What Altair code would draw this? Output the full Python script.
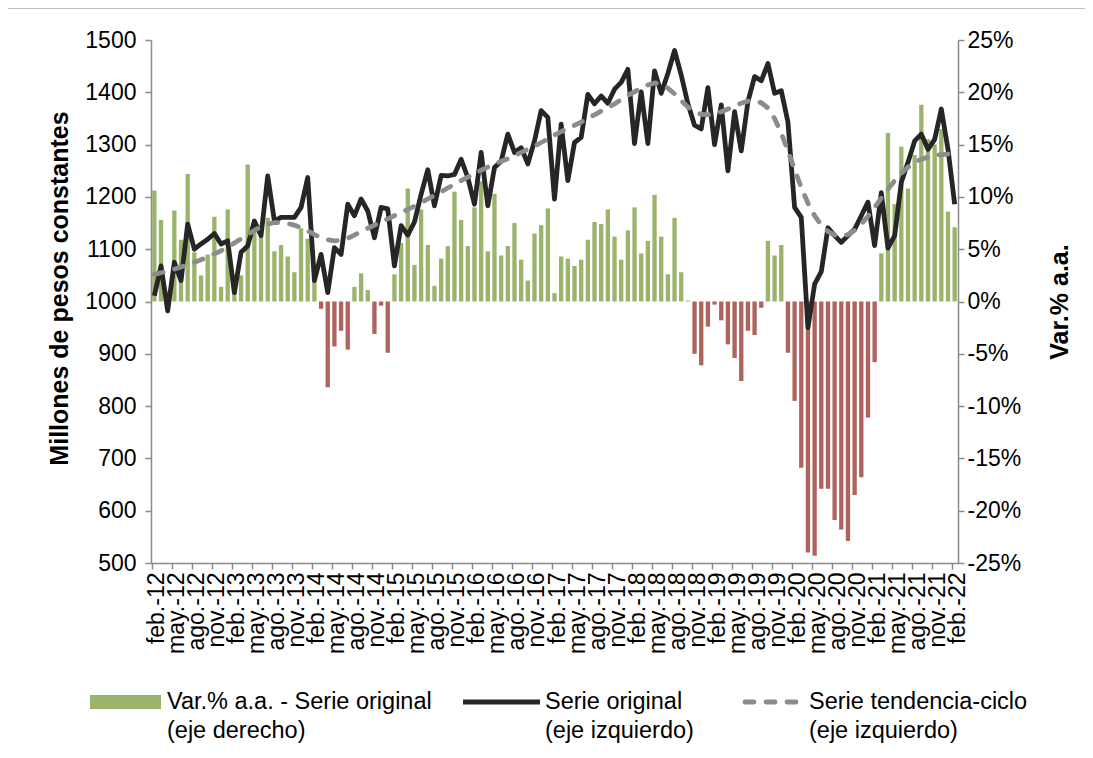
import altair as alt
import pandas as pd

# ---------------- data ----------------
meses = ["ene.", "feb.", "mar.", "abr.", "may.", "jun.", "jul.", "ago.", "sep.", "oct.", "nov.", "dic."]
periodo = []
_m, _y = 1, 12
for _k in range(121):
    periodo.append(f"{meses[_m]}-{_y}")
    _m += 1
    if _m == 12:
        _m, _y = 0, _y + 1
etiquetas = periodo[::3]

serie_original = [
    1011, 1068, 982, 1075, 1040, 1148, 1100, 1110, 1119, 1130,
    1110, 1116, 1017, 1094, 1106, 1154, 1126, 1240, 1154, 1161,
    1161, 1161, 1180, 1237, 1040, 1090, 1017, 1103, 1090, 1186,
    1164, 1196, 1173, 1122, 1180, 1177, 1068, 1145, 1127, 1152,
    1205, 1252, 1183, 1241, 1240, 1243, 1272, 1237, 1186, 1285,
    1183, 1256, 1268, 1320, 1285, 1294, 1263, 1307, 1365, 1352,
    1196, 1339, 1231, 1304, 1314, 1396, 1378, 1393, 1379, 1406,
    1419, 1444, 1302, 1401, 1302, 1441, 1398, 1436, 1480, 1433,
    1378, 1337, 1330, 1409, 1300, 1376, 1250, 1363, 1288, 1382,
    1430, 1422, 1455, 1398, 1403, 1343, 1180, 1161, 950, 1033,
    1057, 1141, 1126, 1113, 1126, 1138, 1164, 1190, 1107, 1208,
    1102, 1126, 1228, 1266, 1307, 1320, 1291, 1310, 1368, 1291, 1186,
]

serie_tendencia = [
    1052, 1055, 1058, 1062, 1066, 1070, 1075, 1080, 1085, 1091,
    1097, 1104, 1112, 1120, 1128, 1136, 1143, 1148, 1151, 1151,
    1149, 1146, 1141, 1135, 1128, 1122, 1118, 1116, 1117, 1121,
    1127, 1134, 1140, 1146, 1152, 1158, 1164, 1170, 1176, 1182,
    1189, 1196, 1203, 1210, 1217, 1224, 1231, 1238, 1244, 1251,
    1257, 1263, 1268, 1273, 1279, 1285, 1291, 1297, 1304, 1311,
    1318, 1325, 1331, 1337, 1343, 1350, 1357, 1364, 1371, 1378,
    1386, 1394, 1401, 1408, 1414, 1418, 1416, 1408, 1397, 1384,
    1372, 1363, 1358, 1357, 1359, 1363, 1368, 1374, 1379, 1383,
    1384, 1380, 1370, 1350, 1322, 1288, 1252, 1218, 1188, 1164,
    1146, 1134, 1127, 1125, 1128, 1136, 1148, 1163, 1180, 1198,
    1215, 1231, 1245, 1257, 1266, 1272, 1276, 1279, 1281, 1282, 1282,
]

variacion = [
    10.6, 7.8, 1.0, 8.7, 5.9, 12.2, 4.7, 2.5, 4.5, 8.1,
    1.4, 8.8, 1.5, 2.5, 13.1, 7.2, 6.2, 8.0, 4.8, 5.4,
    4.3, 2.8, 7.0, 6.0, 2.0, -0.7, -8.2, -4.3, -2.8, -4.6,
    1.4, 2.7, 1.1, -3.1, -0.4, -4.9, 2.6, 5.6, 10.8, 3.5,
    8.8, 5.4, 1.5, 4.1, 5.3, 10.5, 7.8, 5.3, 9.0, 11.5,
    4.8, 10.3, 4.4, 5.3, 7.5, 4.0, 2.0, 6.5, 7.3, 8.9,
    0.8, 4.3, 4.1, 3.4, 4.0, 5.9, 7.6, 7.4, 8.8, 6.2,
    4.0, 6.8, 9.0, 4.6, 5.8, 10.2, 6.2, 2.6, 8.0, 2.8,
    0.1, -5.0, -6.1, -2.4, -0.3, -1.8, -4.1, -5.4, -7.6, -2.8,
    -3.2, -0.6, 5.8, 4.4, 5.4, -4.9, -9.5, -15.9, -24.0, -24.3,
    -17.9, -17.9, -20.9, -21.8, -22.9, -18.5, -16.8, -11.1, -5.8, 4.6,
    16.1, 9.3, 14.8, 10.8, 14.0, 18.8, 15.5, 15.0, 16.5, 8.6, 7.1,
]

ticks_izq = list(range(500, 1501, 100))
ticks_der = list(range(-25, 26, 5))

leyenda_l1 = ["Var.% a.a. - Serie original", "Serie original", "Serie tendencia-ciclo"]
leyenda_l2 = ["(eje derecho)", "(eje izquierdo)", "(eje izquierdo)"]

df = pd.DataFrame({
    "periodo": periodo,
    "orig": serie_original,
    "tend": serie_tendencia,
    "variacion": variacion,
})

# ---------------- styles ----------------
VERDE = "#9BB46B"
ROJO = "#B0635E"
NEGRO = "#262626"
GRIS = "#8C8C8C"
EJE = "#8A8A8A"
FONT = "Liberation Sans"
FS = 23
FS_T = 25
FS_L = 23.5
DASH = [9, 12]

W, H = 807, 523

x_enc = alt.X(
    "periodo:N",
    sort=periodo,
    scale=alt.Scale(paddingInner=0.35, paddingOuter=0.175),
    axis=alt.Axis(
        values=etiquetas, labelAngle=270, bandPosition=0, labelOffset=3,
        title=None, tickSize=6, labelPadding=3, labelOverlap=False,
    ),
)

base = alt.Chart(df)

barras = base.mark_bar().encode(
    x=x_enc,
    y=alt.Y(
        "variacion:Q",
        scale=alt.Scale(domain=[-25, 25], nice=False, zero=True),
        axis=alt.Axis(
            orient="right", values=ticks_der, labelExpr="datum.value + '%'",
            title="Var.% a.a.", titleAngle=270, titlePadding=52,
            titleFontWeight="bold", tickSize=6, labelPadding=3,
        ),
    ),
    color=alt.condition("datum.variacion >= 0", alt.value(VERDE), alt.value(ROJO)),
)

linea = base.mark_line(color=NEGRO, strokeWidth=4.8, strokeJoin="round").encode(
    x=x_enc,
    y=alt.Y(
        "orig:Q",
        scale=alt.Scale(domain=[500, 1500], nice=False, zero=False),
        axis=alt.Axis(
            orient="left", values=ticks_izq, format="d",
            title="Millones de pesos constantes", titleY=248,
            titleFontWeight="bold", titlePadding=12, tickSize=6, labelPadding=9,
        ),
    ),
)

tendencia = base.mark_line(
    color=GRIS, strokeWidth=4.8, strokeDash=DASH, strokeCap="round"
).encode(
    x=x_enc,
    y=alt.Y("tend:Q", scale=alt.Scale(domain=[500, 1500], nice=False, zero=False), axis=None),
)

one = alt.Data(values=[{"k": 0}])

# legend (drawn manually below the plot)
ley_y = 662
ley_y2 = 691
ley_barra = alt.Chart(one).mark_rect(color=VERDE).encode(
    x=alt.value(-61), x2=alt.value(10), y=alt.value(ley_y - 7), y2=alt.value(ley_y + 7)
)
ley_linea = alt.Chart(one).mark_rule(color=NEGRO, strokeWidth=4.8).encode(
    x=alt.value(312), x2=alt.value(389), y=alt.value(ley_y)
)
ley_tend = alt.Chart(one).mark_rule(
    color=GRIS, strokeWidth=4.8, strokeDash=DASH, strokeCap="round"
).encode(x=alt.value(594), x2=alt.value(656), y=alt.value(ley_y))


def ley_texto(txt, xpos, ypos):
    return alt.Chart(one).mark_text(
        text=txt, align="left", baseline="middle", font=FONT,
        fontSize=FS_L, color="black",
    ).encode(x=alt.value(xpos), y=alt.value(ypos))


textos = []
for _txt1, _txt2, _xp in zip(leyenda_l1, leyenda_l2, [16, 394, 658]):
    textos.append(ley_texto(_txt1, _xp, ley_y))
    textos.append(ley_texto(_txt2, _xp, ley_y2))

borde_sup = alt.Chart(one).mark_rule(color="#BFBFBF", strokeWidth=1).encode(
    x=alt.value(-143), x2=alt.value(937), y=alt.value(-31.5)
)

chart = alt.layer(
    barras, linea, tendencia,
    ley_barra, ley_linea, ley_tend, *textos, borde_sup,
).resolve_scale(y="independent").properties(
    width=W, height=H,
    padding={"left": 143, "top": 32, "right": 127, "bottom": 187},
    autosize=alt.AutoSizeParams(type="none"),
).configure_view(stroke=None).configure_axis(
    grid=False, labelFont=FONT, titleFont=FONT, labelFontSize=FS, titleFontSize=FS_T,
    labelColor="black", titleColor="black", domainColor=EJE, tickColor=EJE,
    domainWidth=1.5, tickWidth=1.5,
)

chart.save("out.html", embed_options={"renderer": "svg", "actions": False})
